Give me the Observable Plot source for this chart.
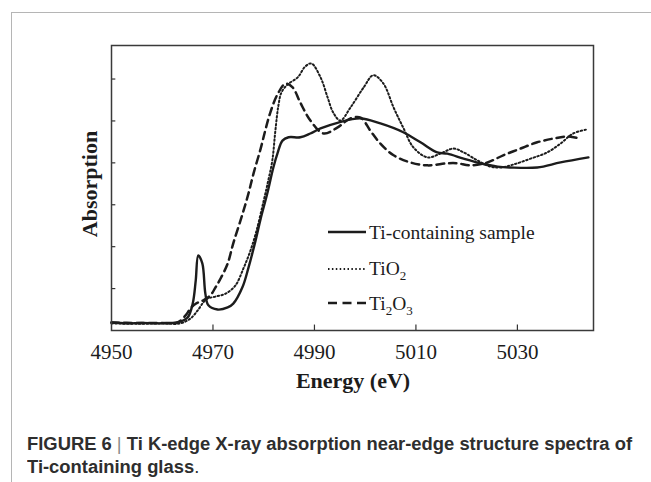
<!DOCTYPE html>
<html>
<head>
<meta charset="utf-8">
<script src="https://cdn.jsdelivr.net/npm/d3@7"></script>
<script src="https://cdn.jsdelivr.net/npm/@observablehq/plot@0.6"></script>
<style>
  html, body { margin: 0; padding: 0; background: #fff; }
  body { width: 651px; height: 482px; overflow: hidden; position: relative; }
  #border { position: absolute; left: 11px; top: 12px; right: 0; bottom: 0;
            border-left: 1.5px solid #b5b5b5; border-top: 1.5px solid #b5b5b5; }
  #chart { position: absolute; left: 0; top: 0; }
  .cap { position: absolute; left: 27px; white-space: nowrap; transform-origin: 0 0;
         font-family: "Liberation Sans", Arial, sans-serif; font-weight: bold;
         font-size: 18px; line-height: 19px; color: #2e2e2e; }
  .cap .bar { font-weight: normal; color: #8a8a8a; }
  .cap .dot { font-weight: normal; }
</style>
</head>
<body>
<div id="border"></div>
<div id="chart"></div>
<div class="cap" id="cap1" style="top:435px">FIGURE 6 <span class="bar">|</span> Ti K-edge X-ray absorption near-edge structure spectra of</div>
<div class="cap" id="cap2" style="top:458px">Ti-containing glass<span class="dot">.</span></div>
<script>
// ---- data ----
const xTickValues = [4950, 4970, 4990, 5010, 5030];
const xInnerTicks = [4970, 4990, 5010, 5030];
const yInnerTicks = [1, 2, 3, 4, 5, 6];

const seriesNames = ["Ti-containing sample", "TiO2", "Ti2O3"];

// Ti-containing sample (solid)
const sampleE = [4950, 4953, 4956, 4959, 4961, 4963.0, 4965.0, 4966.0, 4966.6, 4967.1, 4967.9, 4968.5, 4969.1,
  4970.9, 4972.9, 4974.0, 4975.8, 4977.0, 4978.4, 4979.4, 4980.7, 4981.9, 4982.7, 4983.7, 4984.9,
  4987.2, 4989.2, 4991.2, 4994.7, 4999.1, 5003.0, 5007.5, 5010.9, 5014.2, 5016.2, 5019.4, 5022.7,
  5026.1, 5028.6, 5033.9, 5038.5, 5044.0];
const sampleA = [0.19, 0.17, 0.18, 0.17, 0.18, 0.19, 0.31, 0.64, 1.19, 1.79, 1.60, 0.88, 0.60,
  0.50, 0.55, 0.64, 1.03, 1.50, 2.15, 2.67, 3.27, 3.89, 4.22, 4.53, 4.61,
  4.61, 4.70, 4.82, 4.96, 5.06, 4.94, 4.73, 4.49, 4.25, 4.22, 4.10, 3.99,
  3.91, 3.89, 3.89, 4.01, 4.13];

// TiO2 (dotted)
const tio2E = [4950, 4955, 4960, 4963.6, 4965.6, 4967.0, 4968.1, 4968.9, 4970.5, 4972.5, 4974.4, 4976.0,
  4977.4, 4978.6, 4980.0, 4980.9, 4981.7, 4982.3, 4982.9, 4983.5, 4984.7, 4986.7, 4988.2, 4989.4,
  4991.2, 4992.6, 4993.7, 4995.1, 4997.1, 4999.7, 5001.6, 5003.6, 5005.6, 5007.5, 5009.5, 5012.3,
  5014.8, 5017.4, 5019.4, 5022.1, 5024.7, 5026.7, 5029.2, 5032.6, 5035.9, 5038.5, 5041.0, 5043.8];
const tio2A = [0.17, 0.16, 0.17, 0.17, 0.29, 0.48, 0.67, 0.76, 0.81, 0.88, 1.07, 1.48,
  1.91, 2.39, 3.10, 3.58, 4.06, 4.77, 5.37, 5.68, 5.87, 6.04, 6.30, 6.37,
  6.04, 5.56, 5.20, 5.01, 5.32, 5.80, 6.09, 5.89, 5.32, 4.84, 4.37, 4.13,
  4.22, 4.34, 4.25, 4.06, 3.91, 3.89, 3.96, 4.10, 4.25, 4.46, 4.70, 4.80];

// Ti2O3 (dashed)
const ti2o3E = [4950, 4955, 4960, 4963.0, 4964.6, 4965.6, 4966.6, 4968.1, 4969.5, 4970.5, 4971.5, 4972.9,
  4974.0, 4975.8, 4977.0, 4978.0, 4979.4, 4980.3, 4981.3, 4982.7, 4984.3, 4985.7, 4987.2, 4989.2,
  4991.8, 4994.5, 4997.1, 4999.1, 5001.0, 5003.0, 5005.6, 5008.9, 5012.3, 5016.2, 5018.2, 5020.7,
  5024.1, 5027.2, 5030.6, 5033.9, 5037.1, 5039.9, 5042.4];
const ti2o3A = [0.19, 0.18, 0.18, 0.19, 0.36, 0.53, 0.64, 0.72, 0.84, 1.03, 1.24, 1.60,
  2.08, 2.77, 3.27, 3.75, 4.34, 4.77, 5.20, 5.63, 5.89, 5.80, 5.44, 5.01,
  4.70, 4.84, 5.06, 5.08, 4.77, 4.46, 4.18, 4.01, 3.94, 3.99, 3.99, 3.94,
  4.01, 4.18, 4.34, 4.49, 4.58, 4.63, 4.58];

// ---- build tables ----
const toRows = (E, A) => E.map((e, i) => ({e, a: A[i]}));
const sampleRows = toRows(sampleE, sampleA);
const tio2Rows = toRows(tio2E, tio2A);
const ti2o3Rows = toRows(ti2o3E, ti2o3A);

const ink = "#1c1c1c";
const serif = "'Liberation Serif', 'Times New Roman', serif";
const dotDash = "1.5,2.4";
const dashDash = "7.5,5";

const plot = Plot.plot({
  width: 651,
  height: 400,
  marginLeft: 111,
  marginRight: 58,
  marginTop: 45,
  marginBottom: 70,
  style: { fontFamily: serif, background: "transparent", color: ink },
  x: { domain: [4950, 5045] },
  y: { domain: [0, 6.8] },
  marks: [
    Plot.axisX({ ticks: xTickValues, tickFormat: d => String(d), tickSize: 0, tickPadding: 14, fontSize: 21, label: null, fill: ink }),
    Plot.axisY({ ticks: [], label: null, tickSize: 0 }),
    Plot.ruleX(xInnerTicks, { y1: 0, y2: 0.13, stroke: "#333", strokeWidth: 1.2 }),
    Plot.ruleY(yInnerTicks, { x1: 4950, x2: 4950.85, stroke: "#333", strokeWidth: 1.2 }),
    Plot.line(tio2Rows, { x: "e", y: "a", stroke: ink, strokeWidth: 2, strokeDasharray: dotDash, curve: "catmull-rom" }),
    Plot.line(ti2o3Rows, { x: "e", y: "a", stroke: ink, strokeWidth: 2.5, strokeDasharray: dashDash, curve: "catmull-rom" }),
    Plot.line(sampleRows, { x: "e", y: "a", stroke: ink, strokeWidth: 2.4, curve: "catmull-rom" }),
    Plot.frame({ stroke: "#3a3a3a", strokeWidth: 1.5 })
  ]
});
document.getElementById("chart").appendChild(plot);

// ---- titles & legend ----
const svg = d3.select(plot);
svg.append("text")
  .attr("transform", "translate(97,184) rotate(-90)")
  .attr("text-anchor", "middle")
  .attr("font-family", serif).attr("font-weight", "bold").attr("font-size", 22)
  .attr("fill", ink).text("Absorption");
svg.append("text")
  .attr("x", 353).attr("y", 388)
  .attr("text-anchor", "middle")
  .attr("font-family", serif).attr("font-weight", "bold").attr("font-size", 22)
  .attr("fill", ink).text("Energy (eV)");

const legend = [
  { name: seriesNames[0], dash: null, width: 2.4, ly: 232, ty: 239 },
  { name: seriesNames[1], dash: dotDash, width: 2, ly: 269, ty: 275 },
  { name: seriesNames[2], dash: "9,5.5", width: 2.5, ly: 303, ty: 310 }
];
const lg = svg.append("g").attr("text-anchor", "start");
legend.forEach((d, i) => {
  lg.append("line").attr("x1", 328).attr("x2", 366).attr("y1", d.ly).attr("y2", d.ly)
    .attr("stroke", ink).attr("stroke-width", d.width)
    .attr("stroke-dasharray", d.dash);
  const t = lg.append("text").attr("x", 369).attr("y", d.ty)
    .attr("text-anchor", "start")
    .attr("font-family", serif).attr("font-size", 19.5).attr("fill", ink);
  if (i === 0) {
    t.text(d.name);
  } else if (i === 1) {
    t.append("tspan").text("TiO");
    t.append("tspan").attr("dy", 5).attr("font-size", 13).text("2");
  } else {
    t.append("tspan").text("Ti");
    t.append("tspan").attr("dy", 5).attr("font-size", 13).text("2");
    t.append("tspan").attr("dy", -5).text("O");
    t.append("tspan").attr("dy", 5).attr("font-size", 13).text("3");
  }
});

// fit caption width to reference
const c1 = document.getElementById("cap1"), c2 = document.getElementById("cap2");
const w = c1.getBoundingClientRect().width;
const s = 605 / w;
c1.style.transform = `scaleX(${s})`;
c2.style.transform = `scaleX(${s})`;
</script>
</body>
</html>
